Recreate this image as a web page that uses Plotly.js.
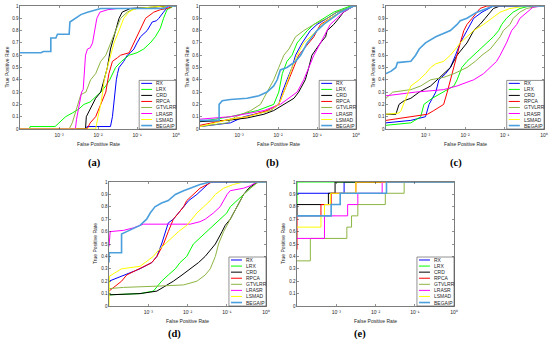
<!DOCTYPE html>
<html>
<head>
<meta charset="utf-8">
<script src="https://cdn.plot.ly/plotly-3.0.1.min.js"></script>
<style>html,body{margin:0;padding:0;background:#fff;}#chart{width:550px;height:343px;}</style>
</head>
<body>
<div id="chart"></div>
<script>
// ---------- data (x values are log10 of False Positive Rate, y = True Positive Rate) ----------
const methods = ['RX','LRX','CRD','RPCA','GTVLRR','LRASR','LSMAD','BEGAIP'];
const panelLabels = ['(a)','(b)','(c)','(d)','(e)'];
const xTickVals = [1e-3, 1e-2, 1e-1, 1];
const xTickText = ['10\u207B\u00B3','10\u207B\u00B2','10\u207B\u00B9','10\u2070'];
const yTickVals = [0,0.1,0.2,0.3,0.4,0.5,0.6,0.7,0.8,0.9,1];
const yTickText = ['0','0.1','0.2','0.3','0.4','0.5','0.6','0.7','0.8','0.9','1'];

// panel (a)
const a_RX_lx = [-4,-2.3,-2.28,-1.68,-1.63,-1.6,-1.57,-1.53,-1.5,-1.46,-1.34,-1.25,-1.17,-1.08,-1.0,-0.91,-0.74,-0.61,-0.5,-0.44,-0.32,-0.19,0];
const a_RX_y  = [0,0,0.02,0.02,0.1,0.2,0.3,0.4,0.45,0.5,0.55,0.6,0.62,0.65,0.7,0.75,0.8,0.87,0.88,0.9,0.95,1,1];
const a_LRX_lx = [-4,-3.76,-3.74,-3.1,-3.0,-2.83,-2.66,-2.5,-2.36,-2.2,-2.1,-1.93,-1.8,-1.7,-1.55,-1.4,-1.2,-1.0,-0.83,-0.66,-0.53,-0.4,-0.32,-0.23,-0.06,0];
const a_LRX_y  = [0,0,0.02,0.02,0.05,0.1,0.13,0.16,0.2,0.22,0.25,0.3,0.35,0.4,0.5,0.55,0.6,0.62,0.65,0.7,0.75,0.82,0.9,0.97,1,1];
const a_CRD_lx = [-4,-2.32,-2.3,-2.22,-2.15,-2.06,-1.93,-1.85,-1.76,-1.68,-1.59,-1.5,-1.46,-1.38,-1.25,-1.17,-0.6,-0.25,0];
const a_CRD_y  = [0,0,0.1,0.15,0.2,0.25,0.3,0.4,0.5,0.65,0.75,0.85,0.9,0.95,0.97,0.98,0.99,1,1];
const a_RPCA_lx = [-4,-2.28,-2.2,-2.06,-1.93,-1.8,-1.72,-1.63,-1.5,-1.42,-1.2,-1.08,-0.95,-0.87,-0.78,-0.57,-0.4,-0.23,-0.06,0];
const a_RPCA_y  = [0,0,0.05,0.1,0.2,0.3,0.45,0.55,0.58,0.6,0.62,0.7,0.8,0.85,0.9,0.95,0.97,0.98,1,1];
const a_GTVLRR_lx = [-4,-2.74,-2.66,-2.57,-2.44,-2.31,-2.19,-2.06,-1.93,-1.8,-1.68,-1.55,-1.42,-1.25,-1.13,-1.0,-0.4,-0.2,0];
const a_GTVLRR_y  = [0,0,0.05,0.15,0.28,0.3,0.4,0.45,0.55,0.6,0.7,0.8,0.9,0.95,0.97,0.98,0.98,1,1];
const a_LRASR_lx = [-4,-2.58,-2.55,-2.47,-2.42,-2.38,-2.32,-2.27,-2.2,-2.14,-2.09,-2.03,-1.95,-1.75,-1.5,-0.3,-0.15,0];
const a_LRASR_y  = [0,0,0.08,0.2,0.3,0.32,0.6,0.65,0.66,0.7,0.8,0.9,0.95,0.97,0.98,0.98,1,1];
const a_LSMAD_lx = [-4,-2.06,-2.0,-1.93,-1.88,-1.84,-1.76,-1.68,-1.59,-1.46,-1.34,-1.21,-1.1,-1.0,-0.31,0];
const a_LSMAD_y  = [0,0,0.1,0.2,0.3,0.4,0.5,0.6,0.7,0.8,0.9,0.95,0.97,0.98,1,1];
const a_BEGAIP_lx = [-4,-3.46,-3.4,-3.21,-3.21,-3.08,-3.04,-2.74,-2.72,-2.57,-2.44,-2.27,-2.06,-1.93,-0.3,-0.2,0];
const a_BEGAIP_y  = [0.62,0.62,0.63,0.63,0.74,0.74,0.77,0.77,0.87,0.9,0.93,0.95,0.97,0.98,0.98,1,1];

// panel (b)
const b_RX_lx = [-4,-3.22,-2.87,-2.19,-1.98,-1.89,-1.77,-1.64,-1.55,-1.38,-1.17,-1.0,-0.74,-0.49,-0.06,0];
const b_RX_y  = [0.02,0.05,0.1,0.15,0.2,0.3,0.4,0.5,0.6,0.7,0.8,0.85,0.9,0.95,1,1];
const b_LRX_lx = [-4,-3.22,-2.53,-2.11,-1.98,-1.89,-1.77,-1.64,-1.51,-1.38,-1.25,-1.08,-0.83,-0.57,-0.14,0];
const b_LRX_y  = [0.06,0.1,0.15,0.2,0.3,0.45,0.55,0.6,0.7,0.75,0.8,0.85,0.9,0.95,1,1];
const b_CRD_lx = [-4,-3.3,-2.79,-2.36,-2.11,-1.85,-1.59,-1.47,-1.3,-1.21,-1.13,-0.91,-0.78,-0.74,-0.57,-0.44,-0.32,-0.06,0];
const b_CRD_y  = [0.06,0.07,0.09,0.12,0.15,0.2,0.25,0.3,0.4,0.5,0.6,0.7,0.75,0.8,0.85,0.9,0.95,1,1];
const b_RPCA_lx = [-4,-3.22,-2.79,-2.28,-1.98,-1.85,-1.72,-1.59,-1.47,-1.34,-1.21,-1.08,-1.0,-0.91,-0.66,-0.4,-0.06,0];
const b_RPCA_y  = [0.03,0.08,0.1,0.15,0.2,0.3,0.4,0.5,0.6,0.65,0.7,0.75,0.8,0.85,0.9,0.95,1,1];
const b_GTVLRR_lx = [-4,-3.3,-3.09,-2.7,-2.45,-2.28,-2.11,-1.98,-1.85,-1.72,-1.55,-1.34,-1.08,-0.74,-0.49,-0.06,0];
const b_GTVLRR_y  = [0.02,0.05,0.1,0.15,0.2,0.3,0.4,0.5,0.6,0.65,0.75,0.8,0.85,0.9,0.95,1,1];
const b_LRASR_lx = [-4,-3.22,-2.36,-1.94,-1.51,-1.34,-1.21,-1.08,-0.91,-0.74,-0.66,-0.49,-0.32,-0.06,0];
const b_LRASR_y  = [0.08,0.1,0.15,0.2,0.3,0.4,0.5,0.6,0.7,0.8,0.85,0.9,0.95,1,1];
const b_LSMAD_lx = [-4,-3.22,-2.79,-2.19,-1.98,-1.85,-1.64,-1.51,-1.34,-1.17,-1.0,-0.87,-0.66,-0.4,-0.06,0];
const b_LSMAD_y  = [0.02,0.08,0.1,0.15,0.2,0.3,0.5,0.6,0.7,0.75,0.8,0.85,0.9,0.95,1,1];
const b_BEGAIP_lx = [-4,-3.51,-3.51,-3.43,-3.22,-2.79,-2.49,-2.28,-2.11,-2.02,-1.94,-1.77,-1.55,-1.42,-1.25,-1.13,-1.0,-0.83,-0.61,-0.4,-0.06,0];
const b_BEGAIP_y  = [0.07,0.07,0.2,0.23,0.24,0.25,0.27,0.3,0.35,0.4,0.48,0.5,0.55,0.6,0.7,0.75,0.8,0.85,0.9,0.95,1,1];

// panel (c)
const c_RX_lx = [-4,-3.37,-3.0,-2.91,-2.74,-2.66,-2.49,-2.37,-2.24,-2.12,-1.95,-1.78,-1.57,-1.28,0];
const c_RX_y  = [0.05,0.07,0.1,0.2,0.3,0.4,0.45,0.5,0.6,0.7,0.8,0.9,0.95,1,1];
const c_LRX_lx = [-4,-3.37,-3.12,-3.04,-2.83,-2.54,-2.28,-2.2,-2.08,-1.95,-1.78,-1.62,-1.45,-1.28,-1.15,-1.07,-0.95,-0.78,-0.61,-0.36,0];
const c_LRX_y  = [0.03,0.05,0.1,0.2,0.25,0.3,0.35,0.4,0.5,0.55,0.6,0.65,0.7,0.75,0.8,0.85,0.9,0.95,0.98,1,1];
const c_CRD_lx = [-4,-3.75,-3.67,-3.54,-3.37,-3.16,-2.87,-2.7,-2.54,-2.37,-2.2,-2.08,-1.95,-1.78,-1.62,-1.49,-1.36,-1.28,-1.11,0];
const c_CRD_y  = [0.12,0.12,0.2,0.23,0.25,0.3,0.35,0.4,0.45,0.5,0.6,0.65,0.7,0.8,0.85,0.9,0.95,0.98,1,1];
const c_RPCA_lx = [-4,-3.37,-2.95,-2.79,-2.54,-2.45,-2.37,-2.28,-2.2,-2.12,-2.03,-1.95,-1.82,-1.7,-1.62,-1.45,0];
const c_RPCA_y  = [0.07,0.1,0.12,0.15,0.2,0.3,0.4,0.5,0.6,0.7,0.8,0.85,0.9,0.95,0.98,1,1];
const c_GTVLRR_lx = [-4,-3.83,-3.37,-3.12,-2.87,-2.54,-2.28,-1.95,-1.74,-1.57,-1.36,-1.24,-1.11,-1.03,-0.86,-0.78,-0.61,-0.44,-0.11,0];
const c_GTVLRR_y  = [0.25,0.3,0.32,0.35,0.4,0.42,0.45,0.5,0.55,0.6,0.65,0.7,0.75,0.8,0.85,0.9,0.95,0.98,1,1];
const c_LRASR_lx = [-4,-3.25,-2.54,-2.2,-1.95,-1.78,-1.53,-1.36,-1.2,-1.11,-0.95,-0.82,-0.69,-0.61,-0.44,-0.28,-0.03,0];
const c_LRASR_y  = [0.27,0.3,0.32,0.35,0.38,0.4,0.45,0.5,0.55,0.6,0.7,0.8,0.85,0.9,0.95,0.99,1,1];
const c_LSMAD_lx = [-4,-3.67,-3.62,-3.5,-3.37,-3.16,-3.0,-2.87,-2.74,-2.54,-2.37,-2.24,-2.12,-1.95,-1.78,-1.53,-1.32,-1.11,-0.86,-0.44,0];
const c_LSMAD_y  = [0.12,0.13,0.15,0.25,0.35,0.4,0.45,0.5,0.53,0.55,0.6,0.65,0.7,0.75,0.8,0.85,0.9,0.95,0.98,1,1];
const c_BEGAIP_lx = [-4,-3.87,-3.75,-3.71,-3.37,-3.25,-3.16,-3.0,-2.74,-2.54,-2.37,-2.2,-2.12,-1.95,-1.7,-1.53,-1.45,-1.28,0];
const c_BEGAIP_y  = [0.45,0.47,0.5,0.54,0.55,0.6,0.65,0.7,0.75,0.78,0.8,0.85,0.88,0.9,0.95,0.97,0.98,1,1];

// panel (d)
const d_RX_lx = [-4,-3.46,-3.21,-2.91,-2.78,-2.66,-2.57,-2.49,-2.36,-2.23,-2.1,-1.97,-1.76,-1.59,-1.51,-1.42,0];
const d_RX_y  = [0.2,0.27,0.3,0.35,0.4,0.5,0.6,0.67,0.7,0.75,0.8,0.85,0.9,0.95,0.98,1,1];
const d_LRX_lx = [-4,-3.21,-2.87,-2.66,-2.49,-2.31,-2.19,-2.02,-1.85,-1.68,-1.51,-1.34,-1.17,-1.0,-0.91,-0.74,-0.57,-0.4,-0.23,0];
const d_LRX_y  = [0.09,0.1,0.12,0.2,0.25,0.3,0.35,0.4,0.5,0.55,0.6,0.65,0.7,0.75,0.8,0.85,0.9,0.95,1,1];
const d_CRD_lx = [-4,-3.21,-2.78,-2.61,-2.36,-2.14,-1.93,-1.72,-1.55,-1.29,-1.12,-1.04,-0.91,-0.74,-0.57,-0.44,-0.23,0];
const d_CRD_y  = [0.09,0.1,0.12,0.15,0.2,0.25,0.3,0.35,0.4,0.5,0.6,0.65,0.7,0.8,0.9,0.95,1,1];
const d_RPCA_lx = [-4,-3.68,-3.55,-3.21,-2.91,-2.78,-2.61,-2.49,-2.36,-2.23,-2.1,-2.02,-1.85,-1.68,-1.38,0];
const d_RPCA_y  = [0.12,0.2,0.25,0.3,0.35,0.4,0.5,0.6,0.7,0.75,0.8,0.85,0.9,0.95,1,1];
const d_GTVLRR_lx = [-4,-3.63,-2.78,-2.1,-1.76,-1.55,-1.42,-1.29,-1.21,-1.08,-0.91,-0.74,-0.57,-0.4,-0.19,0];
const d_GTVLRR_y  = [0.14,0.15,0.16,0.17,0.2,0.25,0.3,0.4,0.5,0.6,0.7,0.8,0.9,0.95,1,1];
const d_LRASR_lx = [-4,-3.97,-3.63,-3.38,-3.21,-3.12,-1.93,-1.68,-1.55,-1.34,-1.17,-1.08,-0.99,-0.91,-0.57,-0.4,-0.23,0];
const d_LRASR_y  = [0.48,0.6,0.61,0.63,0.65,0.66,0.66,0.68,0.7,0.75,0.8,0.85,0.9,0.93,0.95,0.97,1,1];
const d_LSMAD_lx = [-4,-3.99,-3.68,-3.21,-2.87,-2.74,-2.57,-2.4,-2.23,-2.02,-1.89,-1.76,-1.59,-1.42,-1.29,-1.08,-0.83,-0.57,0];
const d_LSMAD_y  = [0,0.24,0.3,0.32,0.4,0.45,0.5,0.55,0.6,0.65,0.7,0.75,0.8,0.85,0.9,0.95,0.98,1,1];
const d_BEGAIP_lx = [-4,-4,-3.68,-3.68,-3.55,-3.34,-3.21,-3.04,-2.95,-2.83,-2.66,-2.49,-2.31,-2.1,-1.93,-1.68,-1.42,0];
const d_BEGAIP_y  = [0.35,0.43,0.43,0.58,0.6,0.63,0.65,0.7,0.75,0.8,0.83,0.85,0.9,0.93,0.95,0.98,1,1];

// panel (e)  (step curves)
const e_RX_lx = [-4,-2.8,0];
const e_RX_y  = [0.909,1,1];
const e_LRX_lx = [-4,-4,0];
const e_LRX_y  = [0.818,1,1];
const e_CRD_lx = [-4,-4,-3.2,-3.03,0];
const e_CRD_y  = [0.727,0.818,0.909,1,1];
const e_RPCA_lx = [-4,-4,-3.39,-3.13,-2.5,0];
const e_RPCA_y  = [0.455,0.727,0.818,0.909,1,1];
const e_GTVLRR_lx = [-4,-3.66,-2.73,-2.61,-2.45,-1.75,-1.27,0];
const e_GTVLRR_y  = [0.364,0.545,0.636,0.727,0.818,0.909,1,1];
const e_LRASR_lx = [-4,-3.3,-2.71,-2.45,-1.83,0];
const e_LRASR_y  = [0.545,0.727,0.818,0.909,1,1];
const e_LSMAD_lx = [-4,-3.39,-3.3,-3.15,-2.5,0];
const e_LSMAD_y  = [0.636,0.727,0.818,0.909,1,1];
const e_BEGAIP_lx = [-4,-3.13,-2.9,-1.72,0];
const e_BEGAIP_y  = [0.727,0.818,0.909,1,1];

// ---------- styles ----------
const colors = {RX:'#0000FF', LRX:'#00FF00', CRD:'#000000', RPCA:'#FF0000', GTVLRR:'#8DB543', LRASR:'#FF00FF', LSMAD:'#FFFF00', BEGAIP:'#4A9FDC'};
const widths = {RX:1, LRX:1, CRD:1, RPCA:1, GTVLRR:1, LRASR:1, LSMAD:1, BEGAIP:1.6};

const W = 550, H = 343;
// pixel boxes [left, right, top, bottom]
const boxes = [[20,176,6,129],[200,356,6,129],[386,544,6,129],[109,266,182,306],[297,454,182,306]];
const labelX = [94,272,456,174,360];

const dataSets = {
  a: {RX:[a_RX_lx,a_RX_y],LRX:[a_LRX_lx,a_LRX_y],CRD:[a_CRD_lx,a_CRD_y],RPCA:[a_RPCA_lx,a_RPCA_y],GTVLRR:[a_GTVLRR_lx,a_GTVLRR_y],LRASR:[a_LRASR_lx,a_LRASR_y],LSMAD:[a_LSMAD_lx,a_LSMAD_y],BEGAIP:[a_BEGAIP_lx,a_BEGAIP_y]},
  b: {RX:[b_RX_lx,b_RX_y],LRX:[b_LRX_lx,b_LRX_y],CRD:[b_CRD_lx,b_CRD_y],RPCA:[b_RPCA_lx,b_RPCA_y],GTVLRR:[b_GTVLRR_lx,b_GTVLRR_y],LRASR:[b_LRASR_lx,b_LRASR_y],LSMAD:[b_LSMAD_lx,b_LSMAD_y],BEGAIP:[b_BEGAIP_lx,b_BEGAIP_y]},
  c: {RX:[c_RX_lx,c_RX_y],LRX:[c_LRX_lx,c_LRX_y],CRD:[c_CRD_lx,c_CRD_y],RPCA:[c_RPCA_lx,c_RPCA_y],GTVLRR:[c_GTVLRR_lx,c_GTVLRR_y],LRASR:[c_LRASR_lx,c_LRASR_y],LSMAD:[c_LSMAD_lx,c_LSMAD_y],BEGAIP:[c_BEGAIP_lx,c_BEGAIP_y]},
  d: {RX:[d_RX_lx,d_RX_y],LRX:[d_LRX_lx,d_LRX_y],CRD:[d_CRD_lx,d_CRD_y],RPCA:[d_RPCA_lx,d_RPCA_y],GTVLRR:[d_GTVLRR_lx,d_GTVLRR_y],LRASR:[d_LRASR_lx,d_LRASR_y],LSMAD:[d_LSMAD_lx,d_LSMAD_y],BEGAIP:[d_BEGAIP_lx,d_BEGAIP_y]},
  e: {RX:[e_RX_lx,e_RX_y],LRX:[e_LRX_lx,e_LRX_y],CRD:[e_CRD_lx,e_CRD_y],RPCA:[e_RPCA_lx,e_RPCA_y],GTVLRR:[e_GTVLRR_lx,e_GTVLRR_y],LRASR:[e_LRASR_lx,e_LRASR_y],LSMAD:[e_LSMAD_lx,e_LSMAD_y],BEGAIP:[e_BEGAIP_lx,e_BEGAIP_y]}
};
const keys = ['a','b','c','d','e'];

const traces = [];
const layout = {
  width: W, height: H,
  margin: {l:0, r:0, t:0, b:0},
  paper_bgcolor: '#ffffff', plot_bgcolor: '#ffffff',
  showlegend: false,
  font: {family: 'Liberation Sans, Arial, sans-serif', color: '#262626'},
  shapes: [], annotations: []
};
const axCol = '#262626';

keys.forEach((k, i) => {
  const n = i === 0 ? '' : String(i + 1);
  const xa = 'x' + n, ya = 'y' + n;
  const [L, R, T, B] = boxes[i];
  layout['xaxis' + n] = {
    domain: [L / W, R / W], anchor: ya, type: 'log', range: [-4, 0],
    tickvals: xTickVals, ticktext: xTickText, ticks: 'inside', ticklen: 2, tickwidth: 0.5,
    tickcolor: axCol, showline: true, linecolor: axCol, linewidth: 0.6, mirror: 'ticks',
    showgrid: false, zeroline: false, tickfont: {size: 5, color: axCol}, ticklabelstandoff: 1
  };
  layout['yaxis' + n] = {
    domain: [(H - B) / H, (H - T) / H], anchor: xa, range: [0, 1],
    tickvals: yTickVals, ticktext: yTickText, ticks: 'inside', ticklen: 2, tickwidth: 0.5,
    tickcolor: axCol, showline: true, linecolor: axCol, linewidth: 0.6, mirror: 'ticks',
    showgrid: false, zeroline: false, tickfont: {size: 4.5, color: axCol}, ticklabelstandoff: 0
  };
  const shape = k === 'e' ? 'hv' : 'linear';
  methods.forEach(m => {
    const [lx, y] = dataSets[k][m];
    traces.push({
      type: 'scatter', mode: 'lines', xaxis: xa, yaxis: ya, name: m,
      x: lx.map(v => Math.pow(10, v)), y: y,
      line: {color: colors[m], width: widths[m], shape: shape},
      hoverinfo: 'skip'
    });
  });
  // axis titles
  layout.annotations.push({
    xref: xa + ' domain', yref: ya + ' domain', x: 0.5, y: 0, yanchor: 'top', xanchor: 'center',
    yshift: -10, text: 'False Positive Rate', showarrow: false, font: {size: 5, color: axCol}
  });
  layout.annotations.push({
    xref: xa + ' domain', yref: ya + ' domain', x: 0, y: 0.5, xanchor: 'center', yanchor: 'middle',
    xshift: -14, textangle: -90, text: 'True Positive Rate', showarrow: false, font: {size: 5, color: axCol}
  });
  // sub-figure label
  layout.annotations.push({
    xref: 'paper', yref: 'paper', x: labelX[i] / W, y: (H - (i < 3 ? 163 : 334)) / H,
    xanchor: 'center', yanchor: 'middle', text: '<b>' + panelLabels[i] + '</b>', showarrow: false,
    font: {size: 10.5, family: 'Liberation Serif, Times New Roman, serif', color: '#000'}
  });
  // legend box
  layout.shapes.push({
    type: 'rect', xref: xa + ' domain', yref: ya + ' domain', x0: 0.764, x1: 1, y0: 0, y1: 0.395,
    line: {color: axCol, width: 0.5}, fillcolor: '#ffffff', layer: 'above'
  });
  methods.forEach((m, j) => {
    const yy = 0.371 - j * 0.049;
    layout.shapes.push({
      type: 'line', xref: xa + ' domain', yref: ya + ' domain', x0: 0.777, x1: 0.847, y0: yy, y1: yy,
      line: {color: colors[m], width: widths[m]}, layer: 'above'
    });
    layout.annotations.push({
      xref: xa + ' domain', yref: ya + ' domain', x: 0.86, y: yy, xanchor: 'left', yanchor: 'middle',
      text: m, showarrow: false, font: {size: 5, color: axCol}
    });
  });
});

Plotly.newPlot('chart', traces, layout, {staticPlot: true, displayModeBar: false});
</script>
</body>
</html>
